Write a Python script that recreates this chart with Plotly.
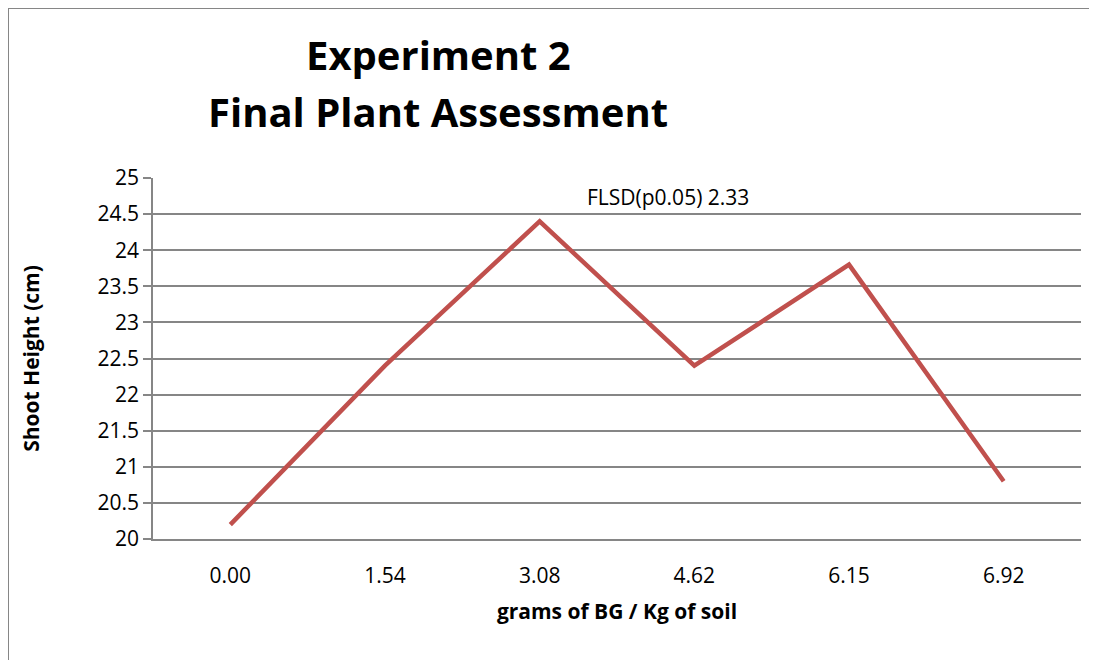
import plotly.graph_objects as go

categories = ["0.00", "1.54", "3.08", "4.62", "6.15", "6.92"]
shoot_height = [20.2, 22.4, 24.4, 22.4, 23.8, 20.8]
y_ticks = [20, 20.5, 21, 21.5, 22, 22.5, 23, 23.5, 24, 24.5, 25]
y_tick_text = ["20", "20.5", "21", "21.5", "22", "22.5", "23", "23.5", "24", "24.5", "25"]

# page body has an 8px default margin; the figure is placed at (8, 8)
OFF = 8
W, H = 1097 - OFF, 660 - OFF
ML, MR, MT, MB = 153 - OFF, 16, 178 - OFF, 121
pw = W - ML - MR
ph = H - MT - MB


def px(xp):  # screen x -> paper x
    return (xp - OFF - ML) / pw


def py(yp):  # screen y -> paper y
    return (H - MB - (yp - OFF)) / ph


FONT = "Open Sans, Liberation Sans, sans-serif"

fig = go.Figure()
fig.add_trace(go.Scatter(
    x=categories, y=shoot_height, mode="lines",
    line=dict(color="#C0504D", width=4.5),
    showlegend=False, hoverinfo="x+y",
))

fig.update_layout(
    width=W, height=H,
    margin=dict(l=ML, r=MR, t=MT, b=MB, autoexpand=False),
    paper_bgcolor="white", plot_bgcolor="white",
    font=dict(family=FONT, color="black"),
    xaxis=dict(
        type="category", range=[-0.5, len(categories) - 0.5],
        showgrid=False, showline=True, automargin=False,
        linecolor="#868686", linewidth=1.5, ticks="",
        tickfont=dict(size=21), ticklabelstandoff=17,
        title=dict(text="<b>grams of BG / Kg of soil</b>", font=dict(size=21), standoff=16),
    ),
    yaxis=dict(
        range=[20, 25], tickvals=y_ticks, ticktext=y_tick_text, automargin=False,
        showgrid=True, gridcolor="#868686", gridwidth=1.5,
        showline=True, linecolor="#868686", linewidth=1.5,
        ticks="outside", ticklen=8, tickcolor="#868686", tickwidth=1.5,
        tickfont=dict(size=21), zeroline=False,
        title=dict(text="<b>Shoot Height (cm)</b>", font=dict(size=21), standoff=52),
    ),
)

# title lines
fig.add_annotation(x=px(438), y=py(55), xref="paper", yref="paper",
                   text="<b>Experiment 2</b>", showarrow=False,
                   xanchor="center", yanchor="middle", font=dict(size=40, family=FONT))
fig.add_annotation(x=px(438), y=py(112), xref="paper", yref="paper",
                   text="<b>Final Plant Assessment</b>", showarrow=False,
                   xanchor="center", yanchor="middle", font=dict(size=40, family=FONT))

fig.add_annotation(
    x=px(668), y=py(197), xref="paper", yref="paper",
    text="FLSD(p0.05) 2.33", showarrow=False, xanchor="center", yanchor="middle",
    font=dict(size=21, family=FONT),
)

# outer chart border (left and top visible)
fig.add_shape(type="line", xref="paper", yref="paper",
              x0=px(8), x1=px(8), y0=py(700), y1=py(8),
              line=dict(color="#868686", width=2))
fig.add_shape(type="line", xref="paper", yref="paper",
              x0=px(8), x1=px(1120), y0=py(8), y1=py(8),
              line=dict(color="#868686", width=2))

fig.write_html("out.html")
